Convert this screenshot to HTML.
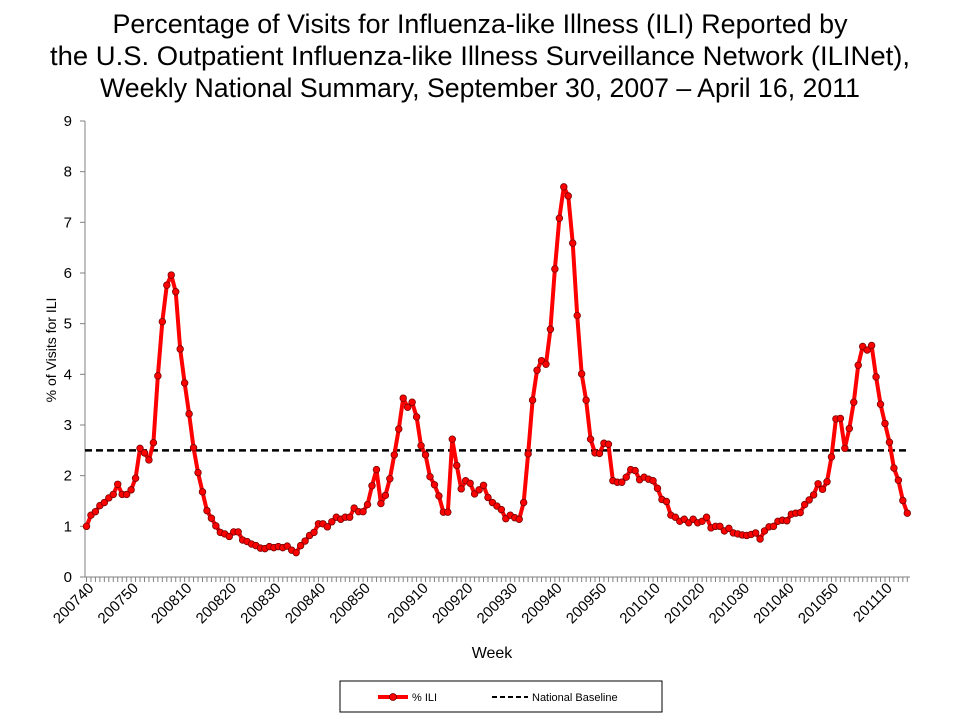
<!DOCTYPE html>
<html><head><meta charset="utf-8"><style>
body{margin:0;background:#fff;}
svg{display:block;font-family:"Liberation Sans",Arial,sans-serif;}
</style></head><body>
<svg id="chart" width="960" height="720" viewBox="0 0 960 720">
<g font-size="26.5" text-anchor="middle" fill="#000">
<text x="480" y="33" textLength="735" lengthAdjust="spacingAndGlyphs">Percentage of Visits for Influenza-like Illness (ILI) Reported by</text>
<text x="480" y="65" textLength="860" lengthAdjust="spacingAndGlyphs">the U.S. Outpatient Influenza-like Illness Surveillance Network (ILINet),</text>
<text x="480" y="97" textLength="760" lengthAdjust="spacingAndGlyphs">Weekly National Summary, September 30, 2007 – April 16, 2011</text>
</g>
<g id="axes"></g>
<g id="marks"></g>
<text x="492" y="658" font-size="16" text-anchor="middle">Week</text>
<text transform="translate(56,350) rotate(-90)" font-size="14" text-anchor="middle">% of Visits for ILI</text>
<g>
<rect x="340" y="681" width="322" height="31" fill="#fff" stroke="#000" stroke-width="1"/>
<g>
<line x1="378" y1="697" x2="408" y2="697" stroke="#f00" stroke-width="4"/>
<circle cx="393" cy="697" r="3.5" fill="#f00" stroke="#600" stroke-width="0.8"/>
<text x="412" y="701" font-size="11">% ILI</text>
</g>
<g>
<line x1="492" y1="697" x2="528" y2="697" stroke="#000" stroke-width="2" stroke-dasharray="5,3"/>
<text x="532" y="701" font-size="11">National Baseline</text>
</g>
</g>
</svg>
<script>
const years = [2007, 2008, 2009, 2010, 2011];
const weeksPerYear = [52, 53, 52, 52, 15];
const startWeek = [40, 1, 1, 1, 1];
const iliValues = [
1.00,1.22,1.29,1.41,1.47,1.56,1.63,1.83,1.63,1.63,1.72,1.95,2.54,2.45,2.31,2.65,3.97,5.04,5.76,5.96,5.63,4.50,3.83,3.22,2.55,2.06,1.68,1.31,1.16,1.01,0.88,0.85,0.80,0.89,0.89,0.73,0.70,0.65,0.62,0.57,0.56,0.60,0.58,0.60,0.58,0.61,0.53,0.48,
0.62,0.71,0.82,0.88,1.05,1.05,0.99,1.09,1.18,1.14,1.18,1.18,1.36,1.29,1.29,1.43,1.80,2.12,1.45,1.61,1.94,2.41,2.92,3.53,3.35,3.45,3.16,2.59,2.41,1.98,1.82,1.60,1.28,1.28,2.72,2.20,1.74,1.90,1.85,1.64,1.72,1.81,1.57,1.47,1.40,1.33,1.15,1.22,1.17,1.14,1.47,2.43,
3.49,4.08,4.27,4.20,4.89,6.08,7.08,7.70,7.52,6.59,5.16,4.01,3.49,2.72,2.45,2.44,2.64,2.62,1.90,1.87,1.87,1.97,2.12,2.10,1.92,1.97,1.93,
1.90,1.75,1.53,1.49,1.22,1.18,1.10,1.14,1.07,1.14,1.07,1.10,1.18,0.97,1.00,1.00,0.91,0.96,0.87,0.85,0.83,0.82,0.84,0.87,0.75,0.91,0.99,1.00,1.10,
1.12,1.11,1.24,1.26,1.27,1.43,1.52,1.62,1.84,1.73,1.88,2.37,3.12,3.13,2.54,2.93,3.45,4.18,4.55,4.48,4.57,3.95,3.41,3.03,2.66,2.15,1.91,1.51,1.26
];
const baselineValue = 2.5;
const yTicks = [0,1,2,3,4,5,6,7,8,9];

const categories = [];
for (let i = 0; i < years.length; i++) {
  for (let w = startWeek[i]; w <= weeksPerYear[i]; w++) {
    categories.push({ label: years[i] + String(w).padStart(2, '0'), week: w });
  }
}

const NS = 'http://www.w3.org/2000/svg';
const plotL = 85, plotR = 910, y0 = 577, y9 = 121;
const n = iliValues.length;
const firstX = 86.5, lastX = 907.3;
function xScale(i) { return firstX + (lastX - firstX) * i / (n - 1); }
function yScale(v) { return y0 - (y0 - y9) * v / 9; }
function mk(tag, attrs, parent) {
  const e = document.createElementNS(NS, tag);
  for (const k in attrs) e.setAttribute(k, attrs[k]);
  parent.appendChild(e);
  return e;
}
const axes = document.getElementById('axes');
const marks = document.getElementById('marks');

const yAxis = mk('line', { x1: plotL, y1: y9, x2: plotL, y2: y0, stroke: '#808080', 'stroke-width': 1 }, axes);


const xAxis = mk('line', { x1: plotL, y1: y0, x2: plotR, y2: y0, stroke: '#808080', 'stroke-width': 1 }, axes);



yTicks.forEach(t => {
  const y = yScale(t);
  const tk = mk('line', { x1: plotL - 5, y1: y, x2: plotL, y2: y, stroke: '#808080' }, axes);
  
  
  const lb = mk('text', { x: 72, y: y + 5, 'font-size': 15, 'text-anchor': 'end', fill: '#000' }, axes);
  
  
  lb.textContent = t;
});

categories.forEach((c, i) => {
  const x = xScale(i);
  const tk = mk('line', { x1: x, y1: y0, x2: x, y2: y0 + 5, stroke: '#808080' }, axes);
  
  
  if (c.week % 10 === 0) {
    const lb = mk('text', { 'font-size': 15, 'text-anchor': 'end', transform: `translate(${x + 8},${y0 + 12}) rotate(-45)` }, axes);
    
    
    lb.textContent = c.label;
  }
});

const bl = mk('line', { x1: plotL, y1: yScale(baselineValue), x2: plotR, y2: yScale(baselineValue), stroke: '#000', 'stroke-width': 2.5, 'stroke-dasharray': '7,4' }, marks);



const pts = iliValues.map((v, i) => xScale(i).toFixed(2) + ',' + yScale(v).toFixed(2)).join(' ');
const line = mk('polyline', { points: pts, fill: 'none', stroke: '#f00', 'stroke-width': 4, 'stroke-linejoin': 'round' }, marks);



iliValues.forEach((v, i) => {
  const c = mk('circle', { cx: xScale(i), cy: yScale(v), r: 3.3, fill: '#f00', stroke: '#700', 'stroke-width': 0.8 }, marks);
  
  
});
</script>
</body></html>
